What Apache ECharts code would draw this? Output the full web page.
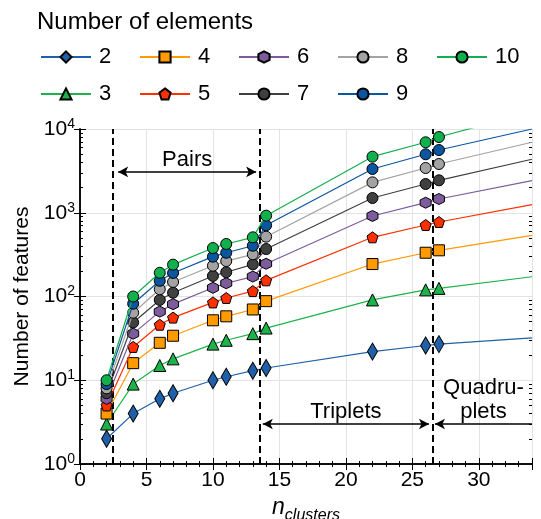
<!DOCTYPE html>
<html><head><meta charset="utf-8">
<script src="https://cdn.jsdelivr.net/npm/echarts@6/dist/echarts.min.js"></script>
<style>html,body{margin:0;padding:0;background:#fff}#c{width:541px;height:519px}</style>
</head><body><div id="c"></div>
<script>
// ---- data ----
const nClusters = [2, 4, 6, 7, 10, 11, 13, 14, 22, 26, 27];
const xEnd = 34;
const elementNames = ['2', '3', '4', '5', '6', '7', '8', '9', '10'];
const el2  = [2, 4, 6, 7, 10, 11, 13, 14, 22, 26, 27];
const el3  = [3, 9, 15, 18, 27, 30, 36, 42, 91, 120, 125];
const el4  = [4, 16, 28, 34, 52, 58, 70, 88, 244, 333, 356];
const el5  = [5, 25, 46, 56, 85, 96, 116, 156, 509, 714, 776];
const el6  = [6, 36, 66, 81, 127, 144, 173, 246, 915, 1318, 1459];
const el7  = [7, 49, 91, 111, 176, 195, 242, 369, 1500, 2205, 2440];
const el8  = [8, 64, 122, 149, 233, 265, 319, 518, 2307, 3422, 3820];
const el9  = [9, 82, 154, 191, 299, 333, 404, 708, 3330, 4990, 5610];
const el10 = [10, 100, 192, 240, 379, 424, 509, 923, 4670, 6940, 8020];
const endValues = [32, 172, 538, 1248, 2415, 4350, 6940, 10000, 16000];
const dividers = [2.5, 13.5, 26.5];
const regionNames = ['Pairs', 'Triplets', 'Quadru-\nplets'];
const regionFrom = [2.87, 13.75, 26.7];
const regionTo = [13.25, 26.25, 34];
const regionY = [3070, 3, 3];

// ---- styles ----
const FONT = "'Liberation Sans', Arial, sans-serif";
const colors = ['#2060a8', '#1db34a', '#ff9a00', '#ff3000', '#7d5c9e', '#404040', '#a3a3a3', '#0a56a0', '#12b04c'];
const hexagon = 'path://M0,-1 L0.866,-0.5 L0.866,0.5 L0,1 L-0.866,0.5 L-0.866,-0.5 Z';
const pentagon = 'path://M0,-1 L0.951,-0.309 L0.588,0.809 L-0.588,0.809 L-0.951,-0.309 Z';
const symbols = ['diamond', 'triangle', 'rect', pentagon, hexagon, 'circle', 'circle', 'circle', 'circle'];
const symbolSizes = [[10, 17], 12, 11, 11, 11, 11, 11, 11, 11];
const allVals = [el2, el3, el4, el5, el6, el7, el8, el9, el10];

const series = elementNames.map((name, k) => ({
  name: name,
  type: 'line',
  symbol: symbols[k],
  symbolSize: symbolSizes[k],
  showAllSymbol: true,
  clip: true,
  z: 3 + k,
  lineStyle: { color: colors[k], width: 1.2 },
  itemStyle: { color: colors[k], borderColor: '#000', borderWidth: 1 },
  emphasis: { disabled: true },
  data: nClusters.map((x, i) => [x, allVals[k][i]])
        .concat([{ value: [xEnd, endValues[k]], symbol: 'none' }])
}));

// dividers + region arrows
series.push({
  name: 'annot', type: 'line', data: [], z: 2,
  markLine: {
    silent: true, symbol: ['none', 'none'],
    lineStyle: { color: '#000', type: [7, 4], width: 2 },
    label: { show: false },
    data: dividers.map(d => ({ xAxis: d }))
  }
});
series.push({
  name: 'arrows', type: 'line', data: [], z: 20,
  markLine: {
    silent: true, symbol: ['arrow', 'arrow'], symbolSize: [8, 10],
    lineStyle: { color: '#000', type: 'solid', width: 1.5 },
    label: { show: true, position: 'insideMiddleTop', distance: 0, color: '#000',
             fontFamily: FONT, fontSize: 22, lineHeight: 24 },
    data: regionNames.map((nm, i) => [
      { coord: [regionFrom[i], regionY[i]], name: nm, label: { formatter: nm } },
      { coord: [regionTo[i], regionY[i]], symbol: i === 2 ? 'none' : 'arrow' }
    ])
  }
});

const legendCols = [['2', '3'], ['4', '5'], ['6', '7'], ['8', '9'], ['10']];
const legends = legendCols.map((col, i) => ({
  data: col, orient: 'vertical', left: 35 + i * 99, top: 41,
  itemWidth: 50, itemHeight: 14, itemGap: 15,
  textStyle: { fontFamily: FONT, fontSize: 22, color: '#000', padding: [0, 0, 0, 3] },
  selectedMode: false
}));

const minorLog = [];
for (let d = 0; d < 4; d++) for (let k = 2; k <= 9; k++) minorLog.push(Math.log10(k * Math.pow(10, d)));

const xAxisBase = {
  type: 'value', min: 0, max: 34, interval: 5,
  axisLine: { show: true, lineStyle: { color: '#000', width: 1.5 } },
  axisTick: { show: true, inside: true, length: 6, lineStyle: { color: '#000', width: 1 } },
  minorTick: { show: true, splitNumber: 5, length: 3, lineStyle: { color: '#000', width: 1 } }
};
const yAxisBase = {
  type: 'log', logBase: 10, min: 1, max: 10000,
  axisLine: { show: true, lineStyle: { color: '#000', width: 1.5 } },
  axisTick: { show: true, inside: true, length: 6, lineStyle: { color: '#000', width: 1 } }
};

const option = {
  animation: false,
  backgroundColor: '#fff',
  title: { text: 'Number of elements', left: 32, top: 5,
           textStyle: { fontFamily: FONT, fontSize: 24, fontWeight: 'normal', color: '#000' } },
  legend: legends,
  grid: { left: 80, right: 9, top: 129, bottom: 55, containLabel: false, outerBoundsMode: 'none' },
  xAxis: [
    Object.assign({}, xAxisBase, {
      position: 'bottom',
      name: '{n|n}{c|clusters}', nameLocation: 'middle', nameGap: 31,
      nameTextStyle: { rich: {
        n: { fontFamily: FONT, fontStyle: 'italic', fontSize: 23, color: '#000', verticalAlign: 'bottom' },
        c: { fontFamily: FONT, fontStyle: 'italic', fontSize: 16, color: '#000', verticalAlign: 'bottom', padding: [0, 0, -5, 0] }
      } },
      axisLabel: { show: true, fontFamily: FONT, fontSize: 21, color: '#000', margin: 6, showMaxLabel: false },
      splitLine: { show: true, lineStyle: { color: '#e3e3e3', width: 1 } }
    }),
    Object.assign({}, xAxisBase, { position: 'top', axisLabel: { show: false }, splitLine: { show: false } })
  ],
  yAxis: [
    Object.assign({}, yAxisBase, {
      position: 'left',
      name: 'Number of features', nameLocation: 'middle', nameGap: 47, nameRotate: 90,
      nameTextStyle: { fontFamily: FONT, fontSize: 21, color: '#000' },
      axisLabel: {
        show: true, margin: 5,
        formatter: v => '{b|10}{s|' + Math.round(Math.log10(v)) + '}',
        rich: {
          b: { fontFamily: FONT, fontSize: 21, color: '#000' },
          s: { fontFamily: FONT, fontSize: 14, color: '#000', verticalAlign: 'top', padding: [0, 0, 10, 0] }
        }
      },
      splitLine: { show: true, lineStyle: { color: '#e3e3e3', width: 1 } }
    }),
    Object.assign({}, yAxisBase, { position: 'right', axisLabel: { show: false }, splitLine: { show: false } }),
    { type: 'value', min: 0, max: 4, position: 'left', axisLine: { show: false }, axisLabel: { show: false },
      splitLine: { show: false },
      axisTick: { show: true, inside: true, length: 3, customValues: minorLog, lineStyle: { color: '#000', width: 1 } } },
    { type: 'value', min: 0, max: 4, position: 'right', axisLine: { show: false }, axisLabel: { show: false },
      splitLine: { show: false },
      axisTick: { show: true, inside: true, length: 3, customValues: minorLog, lineStyle: { color: '#000', width: 1 } } }
  ],
  series: series
};
const chart = echarts.init(document.getElementById('c'), null, { renderer: 'canvas' });
chart.setOption(option);
</script></body></html>
